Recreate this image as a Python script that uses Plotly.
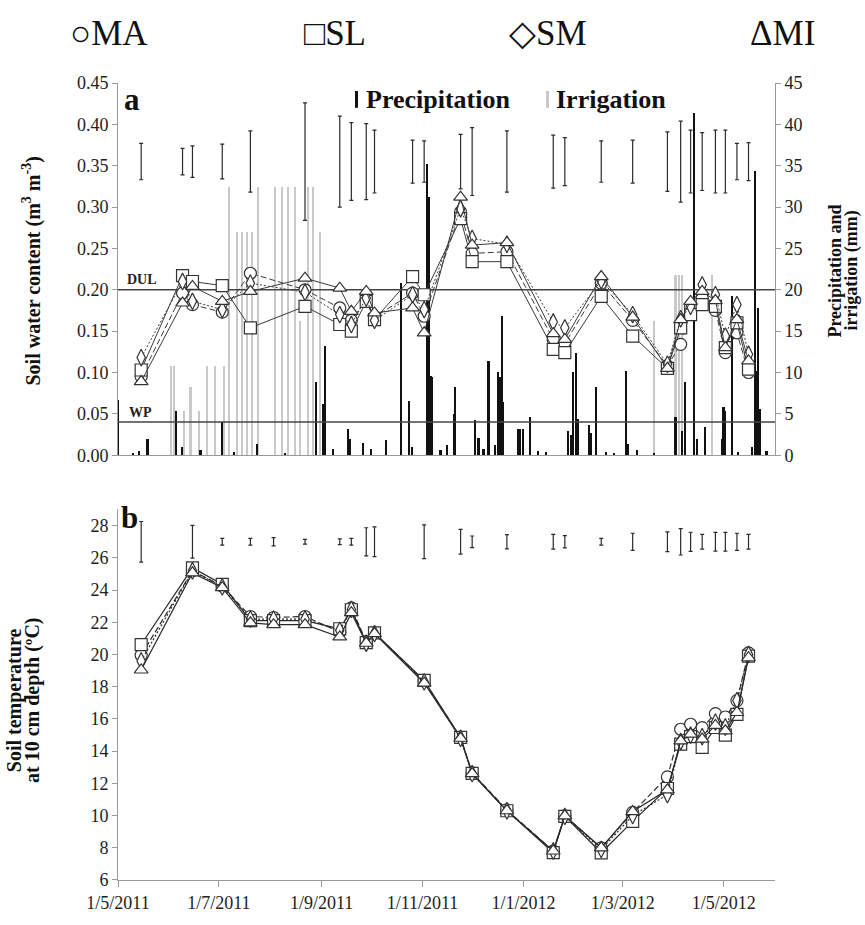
import plotly.graph_objects as go

# ---------------- data ----------------
# Soil water content sampling dates (panel a)
dates_a = ["2011-05-15", "2011-06-09", "2011-06-15", "2011-07-03", "2011-07-20", "2011-08-22",
           "2011-09-12", "2011-09-19", "2011-09-28", "2011-10-03", "2011-10-26", "2011-11-02",
           "2011-11-24", "2011-12-01", "2011-12-22", "2012-01-19", "2012-01-26", "2012-02-17",
           "2012-03-07", "2012-03-28", "2012-04-05", "2012-04-11", "2012-04-18", "2012-04-26",
           "2012-05-02", "2012-05-09", "2012-05-16"]
swc_MA = [0.095, 0.196, 0.182, 0.173, 0.220, 0.200, 0.178, 0.163, 0.188, 0.167, 0.196, 0.168,
          0.294, 0.244, 0.246, 0.140, 0.135, 0.208, 0.163, 0.108, 0.134, 0.180, 0.190, 0.175,
          0.124, 0.148, 0.100]
swc_SL = [0.103, 0.217, 0.210, 0.205, 0.154, 0.180, 0.158, 0.150, 0.186, 0.164, 0.216, 0.194,
          0.286, 0.234, 0.234, 0.128, 0.124, 0.192, 0.144, 0.105, 0.154, 0.170, 0.182, 0.180,
          0.130, 0.160, 0.104]
swc_SM = [0.118, 0.210, 0.186, 0.176, 0.208, 0.197, 0.170, 0.158, 0.190, 0.163, 0.194, 0.176,
          0.298, 0.262, 0.255, 0.161, 0.154, 0.211, 0.170, 0.110, 0.165, 0.180, 0.206, 0.194,
          0.144, 0.182, 0.122]
swc_MI = [0.089, 0.184, 0.204, 0.186, 0.198, 0.214, 0.202, 0.174, 0.198, 0.172, 0.178, 0.148,
          0.312, 0.254, 0.257, 0.147, 0.140, 0.216, 0.167, 0.105, 0.164, 0.186, 0.198, 0.187,
          0.130, 0.164, 0.114]
# LSD bars for soil water content (half length) and their vertical position
lsd_a = [0.022, 0.016, 0.019, 0.021, 0.037, 0.071, 0.055, 0.047, 0.046, 0.038, 0.026, 0.025,
         0.033, 0.041, 0.037, 0.032, 0.029, 0.025, 0.026, 0.036, 0.049, 0.038, 0.035, 0.038,
         0.038, 0.022, 0.023]
lsd_a_level = 0.355

# Soil temperature sampling dates (panel b)
dates_b = ["2011-05-15", "2011-06-15", "2011-07-03", "2011-07-20", "2011-08-03", "2011-08-22",
           "2011-09-12", "2011-09-19", "2011-09-28", "2011-10-03", "2011-11-02", "2011-11-24",
           "2011-12-01", "2011-12-22", "2012-01-19", "2012-01-26", "2012-02-17", "2012-03-07",
           "2012-03-28", "2012-04-05", "2012-04-11", "2012-04-18", "2012-04-26", "2012-05-02",
           "2012-05-09", "2012-05-16"]
t_MA = [19.96, 25.20, 24.25, 22.36, 22.30, 22.36, 21.40, 22.90, 20.80, 21.35, 18.35, 14.85,
        12.65, 10.35, 7.80, 9.98, 8.00, 10.20, 12.40, 15.36, 15.67, 15.46, 16.33, 16.12, 17.14, 20.10]
t_SL = [20.62, 25.38, 24.36, 22.10, 22.10, 22.10, 21.60, 22.78, 20.74, 21.35, 18.39, 14.85,
        12.62, 10.30, 7.70, 9.95, 7.69, 9.64, 11.68, 14.44, 14.90, 14.24, 15.47, 15.00, 16.28, 19.90]
t_SM = [19.60, 25.20, 24.20, 22.20, 22.20, 22.20, 21.50, 22.80, 20.70, 21.30, 18.30, 14.80,
        12.60, 10.30, 7.80, 9.95, 7.90, 10.00, 11.30, 14.60, 15.00, 14.90, 15.80, 15.50, 17.14, 20.00]
t_MI = [19.04, 25.07, 24.15, 21.97, 21.85, 21.85, 21.09, 22.60, 20.70, 21.30, 18.23, 14.80,
        12.60, 10.30, 7.80, 9.98, 8.00, 10.25, 11.60, 14.64, 15.06, 14.75, 15.60, 15.26, 16.40, 19.80]
lsd_b = [1.26, 1.02, 0.21, 0.21, 0.26, 0.15, 0.18, 0.21, 0.87, 0.92, 1.05, 0.77, 0.36, 0.44,
         0.46, 0.38, 0.21, 0.53, 0.61, 0.82, 0.59, 0.46, 0.58, 0.58, 0.53, 0.46]
lsd_b_level = 27.0

# Daily precipitation (mm)
precip_dates = ["2011-05-01", "2011-05-10", "2011-05-14", "2011-05-19", "2011-06-05", "2011-06-09",
                "2011-06-20", "2011-07-03", "2011-07-10", "2011-07-24", "2011-08-10", "2011-08-29",
                "2011-09-02", "2011-09-03", "2011-09-08", "2011-09-17", "2011-09-18", "2011-09-26",
                "2011-10-01", "2011-10-10", "2011-10-19", "2011-10-24", "2011-10-26", "2011-11-04",
                "2011-11-05", "2011-11-06", "2011-11-07", "2011-11-12", "2011-11-16", "2011-11-20",
                "2011-11-21", "2011-12-03", "2011-12-05", "2011-12-08", "2011-12-11", "2011-12-15",
                "2011-12-17", "2011-12-18", "2011-12-19", "2011-12-20", "2011-12-29", "2011-12-30",
                "2012-01-01", "2012-01-05", "2012-01-10", "2012-01-15", "2012-01-28", "2012-01-30",
                "2012-01-31", "2012-02-02", "2012-02-03", "2012-02-10", "2012-02-11", "2012-02-14",
                "2012-02-20", "2012-02-25", "2012-03-03", "2012-03-04", "2012-03-10", "2012-03-20",
                "2012-04-02", "2012-04-06", "2012-04-08", "2012-04-13", "2012-04-15", "2012-04-20",
                "2012-04-30", "2012-05-01", "2012-05-02", "2012-05-06", "2012-05-10", "2012-05-18",
                "2012-05-20", "2012-05-21", "2012-05-22", "2012-05-23", "2012-05-27"]
precip_mm = [6.7, 0.3, 0.5, 2.0, 5.4, 1.0,
             0.6, 4.0, 0.4, 1.4, 0.3, 8.8,
             6.2, 13.2, 0.7, 3.2, 2.0, 1.5,
             0.8, 1.8, 20.8, 6.6, 1.0, 35.2,
             31.2, 9.6, 9.4, 0.6, 1.2, 5.0,
             8.2, 4.2, 2.1, 0.8, 11.4, 1.2,
             10.0, 9.5, 16.8, 6.4, 3.2, 3.2,
             3.2, 4.6, 0.5, 0.4, 2.9, 2.4,
             10.0, 12.4, 4.4, 3.6, 2.7, 8.2,
             0.4, 0.3, 10.2, 1.4, 0.6, 0.3,
             4.6, 2.9, 8.8, 41.4, 2.0, 3.4,
             2.0, 5.8, 5.3, 19.2, 0.4, 1.0,
             34.4, 10.2, 17.8, 5.6, 0.5]

# Irrigation events (mm)
irr_dates = ["2011-06-02", "2011-06-04", "2011-06-10", "2011-06-14", "2011-06-19", "2011-06-24",
             "2011-06-29", "2011-07-04", "2011-07-07", "2011-07-12", "2011-07-15", "2011-07-18",
             "2011-07-21", "2011-07-25", "2011-08-04", "2011-08-08", "2011-08-12", "2011-08-16",
             "2011-08-19", "2011-08-24", "2011-08-27", "2011-08-31", "2012-03-20", "2012-04-02",
             "2012-04-04", "2012-04-06", "2012-04-24"]
irr_mm = [10.8, 10.8, 5.4, 8.2, 5.4, 10.8,
          10.8, 10.8, 32.4, 27.0, 27.0, 27.0,
          27.0, 32.4, 32.4, 32.4, 32.4, 32.4,
          16.2, 32.4, 32.4, 27.0, 16.2, 21.8,
          21.8, 21.8, 21.8]

dul, wp = 0.20, 0.04

tick_dates = ["2011-05-01", "2011-07-01", "2011-09-01", "2011-11-01", "2012-01-01", "2012-03-01", "2012-05-01"]
tick_text = ["1/5/2011", "1/7/2011", "1/9/2011", "1/11/2011", "1/1/2012", "1/3/2012", "1/5/2012"]
x_range = ["2011-05-01", "2012-06-01"]

# ---------------- styling ----------------
SERIF = "Liberation Serif, Times New Roman, serif"
INK = "#222222"
AX = "#9a9a9a"
DAY_MS = 86400000

series = [
    ("MA", swc_MA, t_MA, "circle", "6px,3px"),
    ("SL", swc_SL, t_SL, "square", "solid"),
    ("SM", swc_SM, t_SM, "diamond-tall", "2px,2px"),
    ("MI", swc_MI, t_MI, "triangle-up", "solid"),
]

fig = go.Figure()

# Panel a: bars on the right-hand (mm) axis
fig.add_trace(go.Bar(x=irr_dates, y=irr_mm, width=DAY_MS * 1.0, marker=dict(color="#c9c9c9", line_width=0),
                     xaxis="x", yaxis="y", showlegend=False))
fig.add_trace(go.Bar(x=precip_dates, y=precip_mm, width=DAY_MS * 1.0, marker=dict(color="#111111", line_width=0),
                     xaxis="x", yaxis="y", showlegend=False))

# DUL / WP reference lines
for lvl in (dul, wp):
    fig.add_trace(go.Scatter(x=x_range, y=[lvl, lvl], mode="lines", line=dict(color="#444444", width=1.5),
                             xaxis="x", yaxis="y2", showlegend=False, hoverinfo="skip"))

# LSD bars, panel a
fig.add_trace(go.Scatter(x=dates_a, y=[lsd_a_level] * len(dates_a), mode="markers",
                         marker=dict(size=1, color="rgba(0,0,0,0)"),
                         error_y=dict(type="data", array=lsd_a, visible=True, color="#2a2a2a", thickness=1.2, width=2),
                         xaxis="x", yaxis="y2", showlegend=False))

for name, swc, _, sym, dash in series:
    fig.add_trace(go.Scatter(x=dates_a, y=swc, mode="lines+markers", name=name,
                             line=dict(color="#3a3a3a", width=1, dash=dash),
                             marker=dict(symbol=sym, size=12, color="white", line=dict(color="#333333", width=1.2)),
                             xaxis="x", yaxis="y2", showlegend=False))

# Panel b
fig.add_trace(go.Scatter(x=dates_b, y=[lsd_b_level] * len(dates_b), mode="markers",
                         marker=dict(size=1, color="rgba(0,0,0,0)"),
                         error_y=dict(type="data", array=lsd_b, visible=True, color="#2a2a2a", thickness=1.2, width=2),
                         xaxis="x2", yaxis="y3", showlegend=False))
for name, _, temp, sym, dash in series:
    fig.add_trace(go.Scatter(x=dates_b, y=temp, mode="lines+markers", name=name,
                             line=dict(color="#2a2a2a", width=1.2, dash=dash),
                             marker=dict(symbol=sym, size=12, color="white", line=dict(color="#333333", width=1.2)),
                             xaxis="x2", yaxis="y3", showlegend=False))

tickfont = dict(family=SERIF, size=18, color=INK)

fig.update_layout(
    width=865, height=925,
    margin=dict(l=118, r=90, t=83, b=39),
    paper_bgcolor="white", plot_bgcolor="white",
    bargap=0, barmode="overlay",
    showlegend=False,
    xaxis=dict(domain=[0, 1], anchor="y", type="date", range=x_range, showticklabels=False,
               showgrid=False, zeroline=False, showline=True, linecolor=AX, linewidth=1, ticks=""),
    yaxis=dict(domain=[0.533, 1], anchor="x", side="right", range=[0, 45], tick0=0, dtick=5,
               showgrid=False, zeroline=False, showline=True, linecolor=AX, linewidth=1,
               ticks="outside", ticklen=5, tickcolor=AX, tickfont=tickfont),
    yaxis2=dict(overlaying="y", anchor="x", side="left", range=[0, 0.45], tick0=0, dtick=0.05,
                tickformat=".2f", showgrid=False, zeroline=False, showline=True, linecolor=AX, linewidth=1,
                ticks="outside", ticklen=5, tickcolor=AX, tickfont=tickfont),
    xaxis2=dict(domain=[0, 1], anchor="y3", type="date", range=x_range, tickvals=tick_dates, ticktext=tick_text,
                showgrid=False, zeroline=False, showline=True, linecolor=AX, linewidth=1,
                ticks="outside", ticklen=6, tickcolor=AX, tickfont=dict(family=SERIF, size=18, color=INK)),
    yaxis3=dict(domain=[0, 0.4658], anchor="x2", range=[6, 29.05], tickvals=list(range(6, 29, 2)),
                showgrid=False, zeroline=False, showline=True, linecolor=AX, linewidth=1,
                ticks="outside", ticklen=5, tickcolor=AX, tickfont=tickfont),
)


def note(text, x, y, size, xanchor="left", angle=0, color="#111111"):
    return dict(text=text, x=x, y=y, xref="paper", yref="paper", xanchor=xanchor, yanchor="middle",
                textangle=angle, showarrow=False, font=dict(family=SERIF, size=size, color=color))


ann = []
# top legend
for txt, xc in [("○MA", -0.0137), ("□SL", 0.330), ("◇SM", 0.6545), ("ΔMI", 1.0107)]:
    ann.append(note(txt, xc, 1.062, 35, xanchor="center"))
# panel letters
ann.append(note("<b>a</b>", 0.006, 0.979, 31))
ann.append(note("<b>b</b>", 0.001, 0.4545, 31))
# bar legend
ann.append(note("<b>Precipitation</b>", 0.374, 0.979, 26))
ann.append(note("<b>Irrigation</b>", 0.664, 0.979, 26))
# reference line labels
ann.append(note("<b>DUL</b>", 0.010, 0.753, 14, color="#222222"))
ann.append(note("<b>WP</b>", 0.013, 0.5866, 14, color="#222222"))
# axis titles
ann.append(note("<b>Soil water content (m<sup>3</sup> m<sup>-3</sup>)</b>", -0.131, 0.7646, 20,
                xanchor="center", angle=-90))
ann.append(note("<b>Precipitation and</b>", 1.0913, 0.7646, 18, xanchor="center", angle=-90))
ann.append(note("<b>irrigation (mm)</b>", 1.1172, 0.7646, 18, xanchor="center", angle=-90))
ann.append(note("<b>Soil temperature</b>", -0.157, 0.2254, 20, xanchor="center", angle=-90))
ann.append(note("<b>at 10 cm depth (ºC)</b>", -0.130, 0.2254, 20, xanchor="center", angle=-90))
fig.update_layout(annotations=ann)

# legend swatches for precipitation / irrigation
fig.add_shape(type="rect", xref="paper", yref="paper", x0=0.3607, x1=0.3653, y0=0.9689, y1=0.990,
              fillcolor="#111111", line_width=0)
fig.add_shape(type="rect", xref="paper", yref="paper", x0=0.6514, x1=0.656, y0=0.9689, y1=0.990,
              fillcolor="#c9c9c9", line_width=0)

fig.write_html("out.html")
